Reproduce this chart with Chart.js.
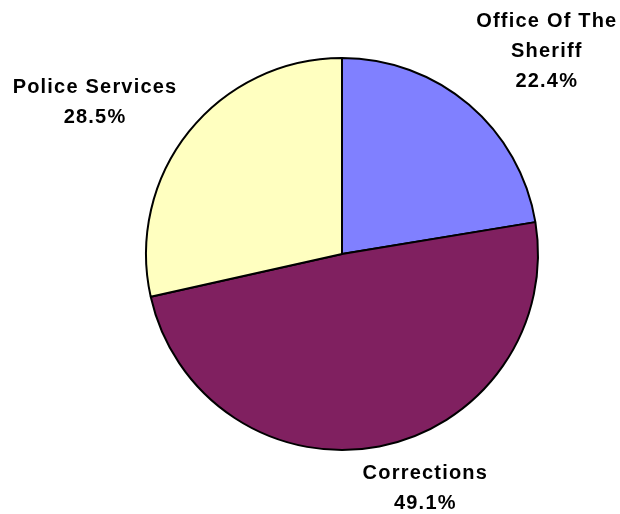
<!DOCTYPE html>
<html>
<head>
<meta charset="utf-8">
<script src="https://cdn.jsdelivr.net/npm/chart.js@4/dist/chart.umd.min.js"></script>
<style>
  html, body { margin: 0; padding: 0; background: #fff; }
  #wrap { width: 620px; height: 514px; position: relative; }
</style>
</head>
<body>
<div id="wrap"><canvas id="pie"></canvas></div>
<script>
// --- DATA ---
const categories = [["Office Of The", "Sheriff"], "Corrections", "Police Services"];
const shares = [22.4, 49.1, 28.5];
const shareLabels = ["22.4%", "49.1%", "28.5%"];

// --- STYLE ---
const sliceColors = ["#8080FF", "#802060", "#FFFFC0"];
// label block centre, relative to the middle of each slice's outer edge
const labelOffsets = [[78, -55], [46, 41], [-94, -30]];
const LINE_H = 30;

const outsideLabels = {
  id: "outsideLabels",
  afterDatasetsDraw(chart) {
    const { ctx } = chart;
    const meta = chart.getDatasetMeta(0);
    ctx.save();
    ctx.font = "bold 20px 'Liberation Sans', Arial, sans-serif";
    ctx.letterSpacing = "1.2px";
    ctx.fillStyle = "#000";
    ctx.textAlign = "center";
    ctx.textBaseline = "alphabetic";
    meta.data.forEach((arc, i) => {
      const p = arc.getProps(["x", "y", "startAngle", "endAngle", "outerRadius"], true);
      const mid = (p.startAngle + p.endAngle) / 2;
      const ex = p.x + p.outerRadius * Math.cos(mid);
      const ey = p.y + p.outerRadius * Math.sin(mid);
      const cat = categories[i];
      const lines = (Array.isArray(cat) ? cat : [cat]).concat(shareLabels[i]);
      const cx = ex + labelOffsets[i][0];
      const cy = ey + labelOffsets[i][1];
      const top = cy - (lines.length - 1) * LINE_H / 2;
      lines.forEach((t, k) => ctx.fillText(t, cx, top + k * LINE_H + 7));
    });
    ctx.restore();
  }
};

new Chart(document.getElementById("pie"), {
  type: "pie",
  data: {
    labels: categories,
    datasets: [{
      data: shares,
      backgroundColor: sliceColors,
      borderColor: "#000",
      borderWidth: 2
    }]
  },
  options: {
    responsive: true,
    maintainAspectRatio: false,
    animation: false,
    layout: { padding: { top: 57, bottom: 63, left: 100, right: 36 } },
    plugins: {
      legend: { display: false },
      tooltip: { enabled: false }
    }
  },
  plugins: [outsideLabels]
});
</script>
</body>
</html>
